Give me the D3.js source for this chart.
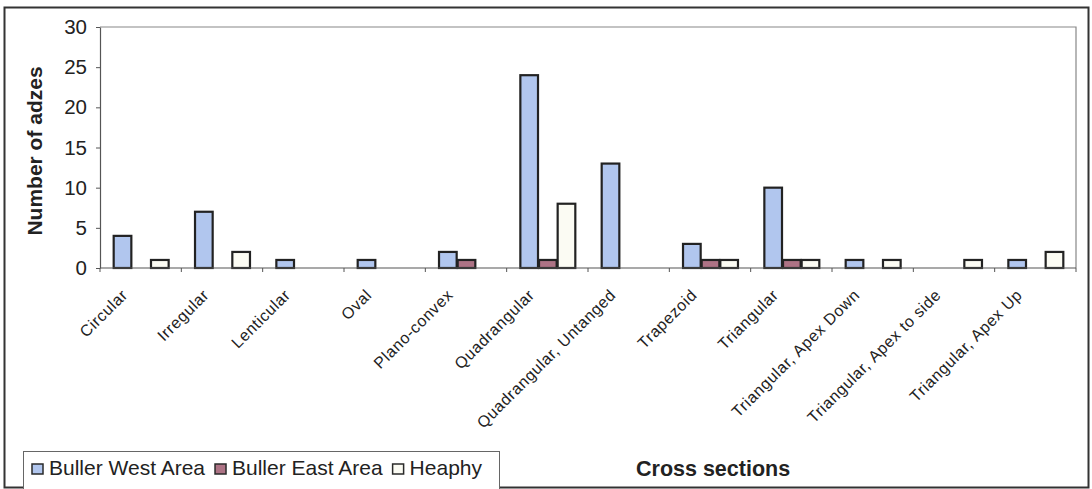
<!DOCTYPE html>
<html>
<head>
<meta charset="utf-8">
<script src="https://cdn.jsdelivr.net/npm/d3@7/dist/d3.min.js"></script>
<style>
  html, body { margin: 0; padding: 0; background: #fff; }
  svg { display: block; font-family: Arial, "Liberation Sans", sans-serif; }
</style>
</head>
<body>
<svg id="chart" width="1092" height="489"></svg>
<script>
// Adze cross-section counts by area
const categories = [
  "Circular", "Irregular", "Lenticular", "Oval", "Plano-convex", "Quadrangular",
  "Quadrangular, Untanged", "Trapezoid", "Triangular", "Triangular, Apex Down",
  "Triangular, Apex to side", "Triangular, Apex Up"
];
const seriesNames = ["Buller West Area", "Buller East Area", "Heaphy"];
const bullerWest = [4, 7, 1, 1, 2, 24, 13, 3, 10, 1, 0, 1];
const bullerEast = [0, 0, 0, 0, 1, 1, 0, 1, 1, 0, 0, 0];
const heaphy     = [1, 2, 0, 0, 0, 8, 0, 1, 1, 1, 1, 2];
const yTicks = [0, 5, 10, 15, 20, 25, 30];
const seriesColors = ["#b1c6ee", "#ad7385", "#fbfbf3"];

const seriesValues = [bullerWest, bullerEast, heaphy];
const svg = d3.select("#chart");

// Outer chart frame
svg.append("rect")
  .attr("x", 4.5).attr("y", 7.5).attr("width", 1084).attr("height", 480)
  .attr("fill", "#fff").attr("stroke", "#333").attr("stroke-width", 2);

const plot = { left: 100, right: 1076, top: 27, bottom: 268 };

const x0 = d3.scaleBand().domain(categories).range([plot.left, plot.right]).padding(0);
const x1 = d3.scaleBand().domain(seriesNames)
  .range([0, x0.bandwidth()]).paddingInner(0).paddingOuter(0.68);
const y = d3.scaleLinear().domain([0, 30]).range([plot.bottom, plot.top]);

// Plot area border (top and right)
svg.append("path")
  .attr("d", `M${plot.left},${plot.top}H${plot.right}V${plot.bottom}`)
  .attr("fill", "none").attr("stroke", "#888").attr("stroke-width", 1.2);

// Bars
const groups = svg.append("g").selectAll("g")
  .data(categories).join("g")
  .attr("transform", d => `translate(${x0(d)},0)`);

groups.selectAll("rect")
  .data((c, i) => seriesNames.map((s, k) => ({ s, k, v: seriesValues[k][i] })).filter(d => d.v > 0))
  .join("rect")
  .attr("x", d => x1(d.s) + 1)
  .attr("width", x1.bandwidth() - 1)
  .attr("y", d => y(d.v))
  .attr("height", d => y(0) - y(d.v))
  .attr("fill", d => seriesColors[d.k])
  .attr("stroke", "#222")
  .attr("stroke-width", 2.2);

// Y axis
const yAxis = svg.append("g")
  .attr("transform", `translate(${plot.left},0)`)
  .call(d3.axisLeft(y).tickValues(yTicks).tickSize(4).tickPadding(9).tickSizeOuter(0));
yAxis.select(".domain").attr("stroke", "#555").attr("stroke-width", 1.2);
yAxis.selectAll(".tick line").attr("stroke", "#555");
yAxis.selectAll(".tick text")
  .attr("font-size", 20.5).attr("fill", "#222")
  .attr("font-family", "Arial, 'Liberation Sans', sans-serif");

// X axis with boundary ticks between categories
const xAxis = svg.append("g")
  .attr("transform", `translate(0,${plot.bottom})`);
xAxis.append("line")
  .attr("x1", plot.left).attr("x2", plot.right)
  .attr("stroke", "#555").attr("stroke-width", 1.2);
const bounds = categories.map(c => x0(c)).concat([plot.right]);
xAxis.selectAll("line.tk").data(bounds).join("line")
  .attr("class", "tk")
  .attr("x1", d => d).attr("x2", d => d)
  .attr("y1", 0).attr("y2", 4)
  .attr("stroke", "#555");

// Rotated category labels
xAxis.selectAll("text").data(categories).join("text")
  .attr("transform", d => `translate(${x0(d) + x0.bandwidth() / 2 - 12},${28}) rotate(-45)`)
  .attr("text-anchor", "end")
  .attr("font-size", 16)
  .attr("letter-spacing", 0.6)
  .attr("fill", "#222")
  .text(d => d);

// Axis titles
svg.append("text")
  .attr("transform", `translate(42,151) rotate(-90)`)
  .attr("text-anchor", "middle")
  .attr("font-size", 21).attr("font-weight", "bold").attr("fill", "#222")
  .text("Number of adzes");

svg.append("text")
  .attr("x", 636).attr("y", 476)
  .attr("font-size", 21.5).attr("font-weight", "bold").attr("fill", "#222")
  .text("Cross sections");

// Legend
const legend = svg.append("g");
legend.append("rect")
  .attr("x", 23.5).attr("y", 451.5).attr("width", 476).attr("height", 40)
  .attr("fill", "#fff").attr("stroke", "#666").attr("stroke-width", 1);

let lx = 32;
seriesNames.forEach((name, k) => {
  legend.append("rect")
    .attr("x", lx).attr("y", 464).attr("width", 11).attr("height", 10)
    .attr("fill", seriesColors[k]).attr("stroke", "#2a2a2a").attr("stroke-width", 1.5);
  const t = legend.append("text")
    .attr("x", lx + 17).attr("y", 475)
    .attr("font-size", 21).attr("fill", "#222")
    .text(name);
  lx += 17 + t.node().getComputedTextLength() + 10;
});
</script>
</body>
</html>
